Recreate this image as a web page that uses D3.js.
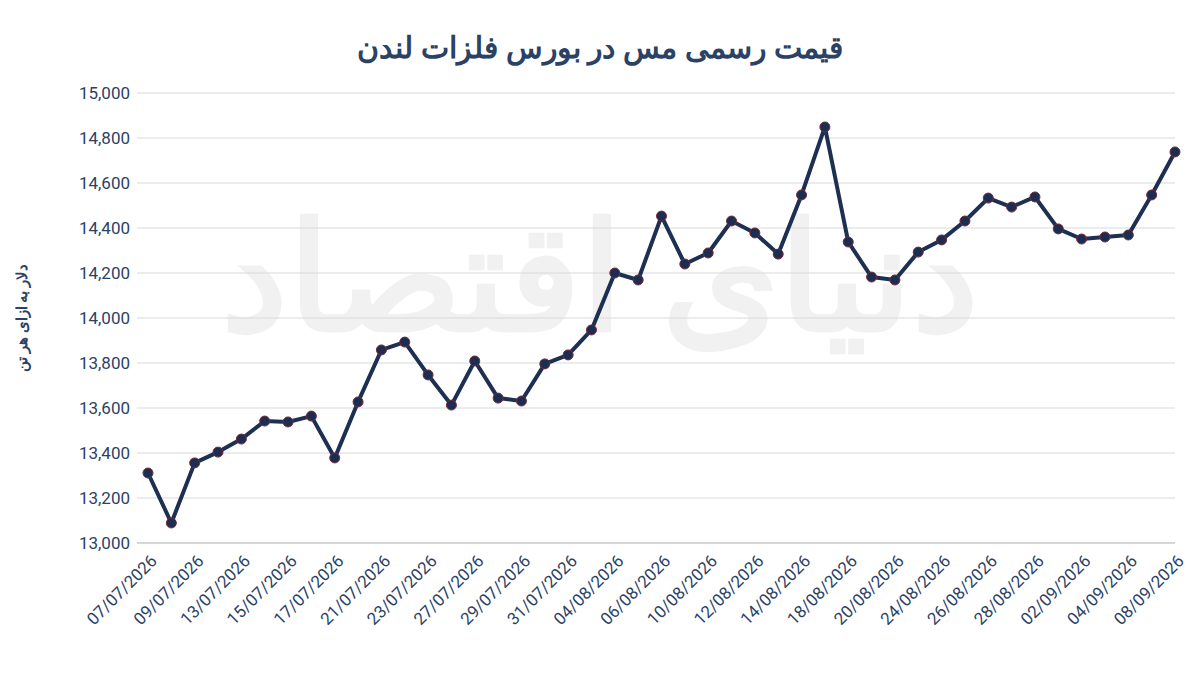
<!DOCTYPE html>
<html><head><meta charset="utf-8">
<script src="https://cdn.jsdelivr.net/npm/d3@7/dist/d3.min.js"></script>
<style>body{margin:0;background:#fff}svg{display:block}</style>
</head><body><svg id="c" width="1200" height="674"></svg>
<script>
const dates=["07/07/2026","08/07/2026","09/07/2026","10/07/2026","13/07/2026","14/07/2026","15/07/2026","16/07/2026","17/07/2026","20/07/2026","21/07/2026","22/07/2026","23/07/2026","24/07/2026","27/07/2026","28/07/2026","29/07/2026","30/07/2026","31/07/2026","03/08/2026","04/08/2026","05/08/2026","06/08/2026","07/08/2026","10/08/2026","11/08/2026","12/08/2026","13/08/2026","14/08/2026","17/08/2026","18/08/2026","19/08/2026","20/08/2026","21/08/2026","24/08/2026","25/08/2026","26/08/2026","27/08/2026","28/08/2026","01/09/2026","02/09/2026","03/09/2026","04/09/2026","07/09/2026","08/09/2026"];
const prices=[13311,13089,13356,13404,13462,13542,13538,13564,13378,13627,13858,13893,13747,13613,13809,13644,13631,13796,13836,13947,14200,14169,14453,14240,14289,14431,14378,14284,14547,14849,14338,14182,14169,14293,14347,14431,14533,14493,14538,14396,14351,14360,14369,14547,14738];
const yTicks=[13000,13200,13400,13600,13800,14000,14200,14400,14600,14800,15000];
const title="قیمت رسمی مس در بورس فلزات لندن";
const yTitle="دلار به ازای هر تن";
const navy="#2b4266";
const svg=d3.select("#c");
const x=d3.scalePoint().domain(dates).range([148,1175]);
const y=d3.scaleLinear().domain([13000,15000]).range([543,93]);
svg.append("text").attr("x",600).attr("y",330).attr("text-anchor","middle").attr("font-family","Noto Sans").attr("font-size",150).attr("font-weight","bold").attr("fill","#000").attr("opacity",0.05).text("دنیای اقتصاد");
svg.append("g").selectAll("line").data(yTicks).join("line").attr("x1",137).attr("x2",1175).attr("y1",d=>y(d)).attr("y2",d=>y(d)).attr("stroke","#d9d9d9");
svg.append("line").attr("x1",137).attr("x2",1175).attr("y1",543).attr("y2",543).attr("stroke","#bfbfbf");
svg.append("g").selectAll("text").data(yTicks).join("text").attr("x",130).attr("y",d=>y(d)+6).attr("text-anchor","end").attr("font-family","Roboto").attr("font-size",17).attr("fill",navy).text(d=>d3.format(",")(d));
const lab=dates.filter((d,i)=>i%2===0);
svg.append("g").selectAll("text").data(lab).join("text").attr("transform",d=>`translate(${x(d)+10},${562}) rotate(-45)`).attr("text-anchor","end").attr("font-family","Roboto").attr("font-size",17).attr("fill",navy).text(d=>d);
svg.append("path").datum(prices).attr("fill","none").attr("stroke","#1d3052").attr("stroke-width",4).attr("stroke-linejoin","round").attr("d",d3.line().x((d,i)=>x(dates[i])).y(d=>y(d)));
svg.append("g").selectAll("circle").data(prices).join("circle").attr("cx",(d,i)=>x(dates[i])).attr("cy",d=>y(d)).attr("r",5).attr("fill","#1b2d50").attr("stroke","#7a2a3a").attr("stroke-width",1);
svg.append("text").attr("x",600).attr("y",58).attr("text-anchor","middle").attr("direction","rtl").attr("font-family","Noto Sans").attr("font-size",30).attr("font-weight","bold").attr("fill",navy).text(title);
svg.append("text").attr("transform","translate(27,318) rotate(-90)").attr("text-anchor","middle").attr("direction","rtl").attr("font-family","Noto Sans").attr("font-size",15).attr("font-weight","bold").attr("fill",navy).text(yTitle);
</script></body></html>
